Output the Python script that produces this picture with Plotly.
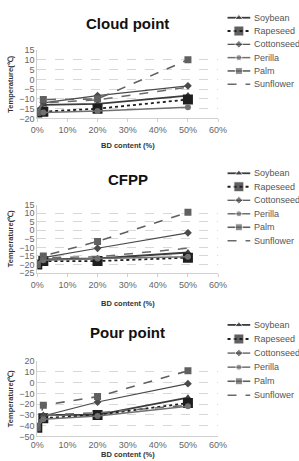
import plotly.graph_objects as go

bd_content = [0, 2, 20, 50]
series_names = ["Soybean", "Rapeseed", "Cottonseed", "Perilla", "Palm", "Sunflower"]

cloud_point = {
    "Soybean":    [-17, -13, -12.5, -8.3],
    "Rapeseed":   [-17, -16.5, -15, -10.3],
    "Cottonseed": [-17, -12, -8.3, -3.3],
    "Perilla":    [-17, -17, -16.2, -14.2],
    "Palm":       [-17, -10.3, -10, 10],
    "Sunflower":  [-17, -12, -10.5, -4],
}
cfpp = {
    "Soybean":    [-20, -17, -16.5, -13],
    "Rapeseed":   [-20, -18, -18, -16],
    "Cottonseed": [-20, -16, -10.5, -1.5],
    "Perilla":    [-20, -17.5, -16.5, -15.5],
    "Palm":       [-20, -15, -6.5, 10.5],
    "Sunflower":  [-20, -16, -15.5, -10.5],
}
pour_point = {
    "Soybean":    [-42, -30, -30, -14],
    "Rapeseed":   [-42, -33, -30, -19],
    "Cottonseed": [-42, -31, -18, -1],
    "Perilla":    [-42, -34, -31, -22],
    "Palm":       [-42, -21, -13, 11],
    "Sunflower":  [-42, -30, -28, -21],
}
titles = ["Cloud point", "CFPP", "Pour point"]
y_ranges = [[-20, 15], [-25, 15], [-50, 20]]
y_dticks = [5, 5, 10]

styles = {
    "Soybean":    dict(color="#3c3c3c", dash="solid", width=1.8, symbol="triangle-up", size=7, legdash="solid"),
    "Rapeseed":   dict(color="#1e1e1e", dash="dot", width=1.8, symbol="square", size=10, legdash="dot"),
    "Cottonseed": dict(color="#4a4a4a", dash="solid", width=1.2, symbol="diamond", size=6, legdash="solid"),
    "Perilla":    dict(color="#707070", dash="solid", width=1.5, symbol="circle", size=6, legdash="solid"),
    "Palm":       dict(color="#606060", dash="dash", width=1.6, symbol="square", size=7, legdash="solid"),
    "Sunflower":  dict(color="#6a6a6a", dash="dash", width=1.5, symbol=None, size=0, legdash="dash"),
}

W, H = 299.0, 461.0
def py(px):
    return 1 - px / H

x_dom = [32 / W, 223 / W]
y_doms = [[py(116), py(46)], [py(274), py(204)], [py(441), py(364)]]
title_ys = [py(19), py(178), py(335)]
xtitle_ys = [py(144), py(305), py(459)]
# legend rows (pixel positions of first row, row step)
legend_rows = [(13, 13.6), (172, 13.8), (327, 14.4)]
leg_x0, leg_x1, leg_text_x = 233, 257, 259
leg_area_left = 226

fig = go.Figure()
datasets = [cloud_point, cfpp, pour_point]
for i, data in enumerate(datasets):
    sfx = "" if i == 0 else str(i + 1)
    for name in series_names:
        st = styles[name]
        mode = "lines+markers" if st["symbol"] else "lines"
        fig.add_trace(go.Scatter(
            x=bd_content, y=data[name], name=name, mode=mode, showlegend=False,
            line=dict(color=st["color"], dash=st["dash"], width=st["width"]),
            marker=dict(symbol=st["symbol"] or "circle", size=st["size"], color=st["color"]),
            xaxis="x" + sfx, yaxis="y" + sfx,
        ))

annotations = []
# custom compact legends drawn on an overlay axis in the right strip (pixel units)
for i in range(3):
    y0, step = legend_rows[i]
    for k, name in enumerate(series_names):
        st = styles[name]
        yc = y0 + k * step
        mode = "lines+markers" if st["symbol"] else "lines"
        fig.add_trace(go.Scatter(
            x=[leg_x0, (leg_x0 + leg_x1) / 2, leg_x1], y=[yc, yc, yc], mode=mode,
            showlegend=False, hoverinfo="skip", cliponaxis=False,
            line=dict(color=st["color"], dash=st["legdash"], width=st["width"]),
            marker=dict(symbol=st["symbol"] or "circle", size=[0, st["size"], 0], color=st["color"]),
            xaxis="x4", yaxis="y4",
        ))
        annotations.append(dict(
            text=name, x=leg_text_x, y=yc, xref="x4", yref="y4", showarrow=False,
            xanchor="left", yanchor="middle", font=dict(size=9, color="#555"),
        ))

layout = dict(
    width=299, height=461, margin=dict(l=0, r=0, t=0, b=0),
    paper_bgcolor="white", plot_bgcolor="rgba(0,0,0,0)", showlegend=False,
    font=dict(family="Liberation Sans, Arial, sans-serif", size=9, color="#555"),
    xaxis4=dict(domain=[leg_area_left / W, 1], range=[leg_area_left, W], visible=False,
                fixedrange=True, anchor="y4", showgrid=False, zeroline=False),
    yaxis4=dict(domain=[0, 1], range=[H, 0], visible=False, fixedrange=True, anchor="x4",
                showgrid=False, zeroline=False),
)
for i in range(3):
    sfx = "" if i == 0 else str(i + 1)
    layout["xaxis" + sfx] = dict(
        domain=x_dom, anchor="y" + sfx, range=[0, 60], dtick=10, ticksuffix="%",
        showgrid=False, showline=True, linecolor="#d0d0d0", linewidth=1,
        ticks="outside" if i < 2 else "", ticklen=3, tickcolor="#d0d0d0", zeroline=False,
        tickfont=dict(size=9, color="#666"),
    )
    layout["yaxis" + sfx] = dict(
        domain=y_doms[i], anchor="x" + sfx, range=y_ranges[i], dtick=y_dticks[i],
        showgrid=True, gridcolor="#d8d8d8", griddash="dash", gridwidth=1,
        showline=True, linecolor="#d0d0d0", zeroline=False,
        tickfont=dict(size=9, color="#666"),
        title=dict(text="<b>Temperature(℃)</b>", font=dict(size=7.5, color="#333"), standoff=4),
    )
    annotations.append(dict(
        text="<b>" + titles[i] + "</b>", x=(x_dom[0] + x_dom[1]) / 2, y=title_ys[i],
        xref="paper", yref="paper", showarrow=False, yanchor="middle",
        font=dict(size=15, color="#111"),
    ))
    annotations.append(dict(
        text="<b>BD content (%)</b>", x=(x_dom[0] + x_dom[1]) / 2, y=xtitle_ys[i],
        xref="paper", yref="paper", showarrow=False, yanchor="middle",
        font=dict(size=7.5, color="#333"),
    ))

layout["annotations"] = annotations
fig.update_layout(**layout)
fig.write_html("out.html")
